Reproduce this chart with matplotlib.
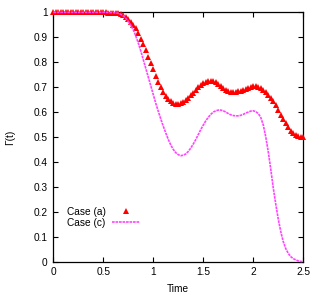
import numpy as np
import matplotlib
matplotlib.use("Agg")
import matplotlib.pyplot as plt

plt.rcParams['font.family'] = ['Liberation Sans', 'DejaVu Sans']

time = np.round(np.arange(0, 101) * 0.025, 3)

case_a = [
    1.0, 1.0, 1.0, 1.0, 1.0, 1.0, 1.0, 1.0, 1.0, 1.0,      # 0.000-0.225
    1.0, 1.0, 1.0, 1.0, 1.0, 1.0, 1.0, 1.0, 1.0, 1.0,      # 0.250-0.475
    1.0, 1.0, 0.999, 0.999, 0.999, 0.998, 0.996, 0.993,    # 0.500-0.675
    0.988, 0.981, 0.974, 0.963, 0.951, 0.936, 0.917, 0.895,  # 0.700-0.875
    0.872, 0.847, 0.822, 0.797, 0.771, 0.746, 0.722, 0.700,  # 0.900-1.075
    0.681, 0.665, 0.652, 0.643, 0.637, 0.634, 0.634, 0.636,  # 1.100-1.275
    0.641, 0.648, 0.657, 0.667, 0.678, 0.689, 0.699, 0.708,  # 1.300-1.475
    0.715, 0.721, 0.725, 0.726, 0.724, 0.719, 0.712, 0.704,  # 1.500-1.675
    0.696, 0.690, 0.685, 0.682, 0.681, 0.681, 0.683, 0.686,  # 1.700-1.875
    0.690, 0.694, 0.698, 0.701, 0.703, 0.703, 0.701, 0.696,  # 1.900-2.075
    0.688, 0.679, 0.668, 0.657, 0.644, 0.628, 0.609, 0.589,  # 2.100-2.275
    0.571, 0.555, 0.539, 0.526, 0.516, 0.509, 0.504, 0.501,  # 2.300-2.475
    0.500,                                                 # 2.500
]

case_c = [
    1.0, 1.0, 1.0, 1.0, 1.0, 1.0, 1.0, 1.0, 1.0, 1.0,
    1.0, 1.0, 1.0, 1.0, 1.0, 1.0, 1.0, 1.0, 1.0, 1.0,
    1.0, 1.0, 0.999, 0.999, 0.999, 0.998, 0.996, 0.992,
    0.986, 0.976, 0.963, 0.948, 0.930, 0.905, 0.877, 0.845,
    0.810, 0.775, 0.740, 0.705, 0.670, 0.635, 0.603, 0.572,
    0.543, 0.516, 0.490, 0.468, 0.450, 0.437, 0.429, 0.425,
    0.427, 0.432, 0.442, 0.456, 0.472, 0.490, 0.510, 0.530,
    0.548, 0.565, 0.579, 0.591, 0.600, 0.605, 0.608, 0.608,
    0.605, 0.600, 0.594, 0.589, 0.586, 0.585, 0.585, 0.587,
    0.591, 0.596, 0.600, 0.604, 0.605, 0.602, 0.594, 0.578,
    0.548, 0.500, 0.440, 0.370, 0.295, 0.230, 0.170, 0.120,
    0.080, 0.052, 0.033, 0.020, 0.012, 0.007, 0.003, 0.001,
    0.0,
]

xticks = [0, 0.5, 1, 1.5, 2, 2.5]
xticklabels = ["0", "0.5", "1", "1.5", "2", "2.5"]
yticks = [0, 0.1, 0.2, 0.3, 0.4, 0.5, 0.6, 0.7, 0.8, 0.9, 1]
yticklabels = ["0", "0.1", "0.2", "0.3", "0.4", "0.5", "0.6", "0.7", "0.8", "0.9", "1"]

fig = plt.figure(figsize=(3.27, 2.94), dpi=100)
ax = fig.add_axes([0.163, 0.110, 0.7645, 0.848])

ax.plot(time, case_a, linestyle='none', marker='^', color='#ff0000',
        markersize=4.4, markeredgewidth=0, label='Case (a)', clip_on=False, zorder=3)
ax.plot(time, case_c, color='#ff44ff', linewidth=1.2, linestyle=(0, (1.6, 0.5)),
        label='Case (c)', clip_on=False, zorder=4)

ax.set_xlim(0, 2.5)
ax.set_ylim(0, 1)
ax.set_xticks(xticks)
ax.set_xticklabels(xticklabels)
ax.set_yticks(yticks)
ax.set_yticklabels(yticklabels)
ax.tick_params(direction='in', length=3.6, width=0.8, top=True, right=True,
               labelsize=7.3, pad=4, colors='black')
for s in ax.spines.values():
    s.set_linewidth(0.9)

fig.text(178 / 327, 1 - 289 / 294, "Time", ha='center', va='center', fontsize=7.3)
fig.text(10 / 327, 1 - 137 / 294, "\u0393(t)", ha='center', va='center',
         rotation=90, fontsize=7.3)

ax.legend(loc='center left', bbox_to_anchor=(66.7 / 327, 1 - 217.2 / 294),
          bbox_transform=fig.transFigure, frameon=False, markerfirst=False,
          fontsize=7.3, handlelength=2.8, handletextpad=0.6, borderpad=0,
          borderaxespad=0, labelspacing=0.12)

fig.savefig("out.png", dpi=100)
